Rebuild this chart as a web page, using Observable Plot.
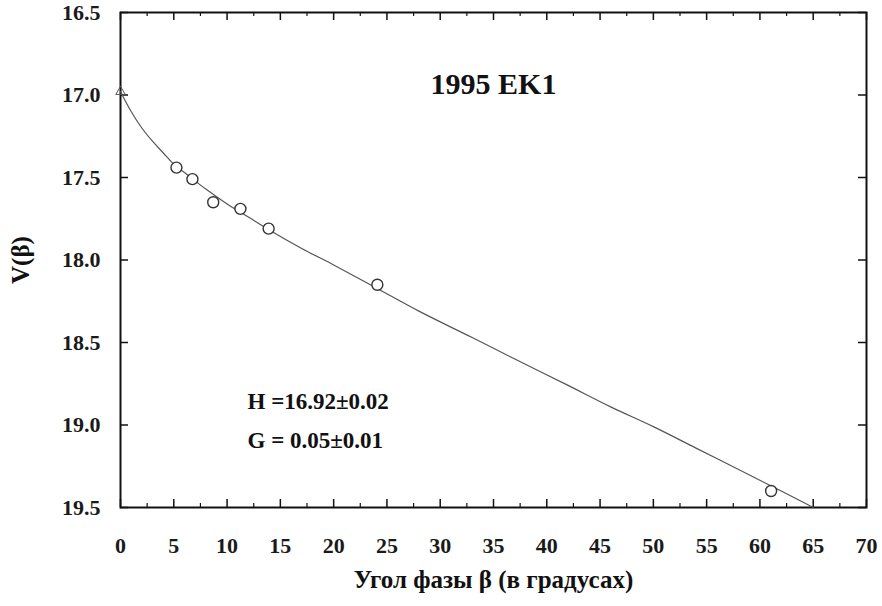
<!DOCTYPE html>
<html>
<head>
<meta charset="utf-8">
<script src="https://cdn.jsdelivr.net/npm/d3@7"></script>
<script src="https://cdn.jsdelivr.net/npm/@observablehq/plot@0.6"></script>
<style>
  body { margin: 0; background: #fff; }
</style>
</head>
<body>
<div id="chart"></div>
<script>
// Observed points (phase angle in degrees, V magnitude)
const obsBeta = [5.25, 6.75, 8.7, 11.25, 13.9, 24.1, 61.05];
const obsV    = [17.44, 17.51, 17.65, 17.69, 17.81, 18.15, 19.40];

// Fitted H-G curve
const fitBeta = [0, 1, 2, 3, 4, 5, 6, 8, 10, 12, 14, 17, 20, 24, 28, 33, 37, 42, 46, 50, 54, 58, 62, 65];
const fitV    = [16.98, 17.10, 17.20, 17.28, 17.35, 17.42, 17.47, 17.57, 17.66, 17.74, 17.82, 17.93, 18.03, 18.17, 18.31, 18.47, 18.60, 18.76, 18.89, 19.01, 19.14, 19.27, 19.40, 19.50];

// Zero-phase marker
const zeroBeta = [0];
const zeroV = [16.98];

// Axis ticks
const xMajor = [0, 5, 10, 15, 20, 25, 30, 35, 40, 45, 50, 55, 60, 65, 70];
const xMinor = [2.5, 7.5, 12.5, 17.5, 22.5, 27.5, 32.5, 37.5, 42.5, 47.5, 52.5, 57.5, 62.5, 67.5];
const yMajor = [16.5, 17.0, 17.5, 18.0, 18.5, 19.0, 19.5];

// Texts
const titleText = "1995 EK1";
const hText = "H =16.92\u00B10.02";
const gText = "G = 0.05\u00B10.01";
const xLabel = "Угол фазы β (в градусах)";
const yLabel = "V(β)";

const points = obsBeta.map((b, i) => ({beta: b, v: obsV[i]}));
const fit = fitBeta.map((b, i) => ({beta: b, v: fitV[i]}));
const zero = zeroBeta.map((b, i) => ({beta: b, v: zeroV[i]}));

const W = 882, H = 606;
const mL = 120, mR = 16, mT = 12, mB = 99;
const fw = W - mL - mR, fh = H - mT - mB;
const major = 8, minor = 4;
const tickColor = "#111";
const serif = "'Liberation Serif', serif";

const chart = Plot.plot({
  width: W,
  height: H,
  marginLeft: mL,
  marginRight: mR,
  marginTop: mT,
  marginBottom: mB,
  style: `font-family: ${serif}; font-weight: bold; font-size: 21px; color: #1a1a1a; background: #fff;`,
  x: {domain: [0, 70]},
  y: {domain: [16.5, 19.5], reverse: true},
  marks: [
    // inward ticks
    Plot.ruleX(xMajor, {x: d => d, insetTop: fh - major, stroke: tickColor, strokeWidth: 1.5}),
    Plot.ruleX(xMajor, {x: d => d, insetBottom: fh - major, stroke: tickColor, strokeWidth: 1.5}),
    Plot.ruleX(xMinor, {x: d => d, insetTop: fh - minor, stroke: tickColor, strokeWidth: 1.2}),
    Plot.ruleX(xMinor, {x: d => d, insetBottom: fh - minor, stroke: tickColor, strokeWidth: 1.2}),
    Plot.ruleY(yMajor, {y: d => d, insetRight: fw - major, stroke: tickColor, strokeWidth: 1.5}),
    Plot.ruleY(yMajor, {y: d => d, insetLeft: fw - major, stroke: tickColor, strokeWidth: 1.5}),
    Plot.axisX({ticks: xMajor, tickSize: 0, tickPadding: 30, label: null, tickFormat: d3.format("d"), fontSize: 22, fontWeight: "bold"}),
    Plot.axisY({ticks: yMajor, tickSize: 0, tickPadding: 20, label: null, tickFormat: d3.format(".1f"), fontSize: 22, fontWeight: "bold"}),
    Plot.frame({stroke: "#111", strokeWidth: 2}),
    Plot.line(fit, {x: "beta", y: "v", stroke: "#555", strokeWidth: 1.2, curve: "monotone-x"}),
    Plot.dot(zero, {x: "beta", y: "v", symbol: "triangle", r: 3.5, stroke: "#555", strokeWidth: 1, fill: "none"}),
    Plot.dot(points, {x: "beta", y: "v", r: 5.5, stroke: "#333", strokeWidth: 1.4, fill: "white"}),
    Plot.text([titleText], {frameAnchor: "top", lineAnchor: "middle", dy: 72, fontSize: 30, fontWeight: "bold", fill: "#111"}),
    Plot.text([hText], {frameAnchor: "top-left", lineAnchor: "middle", textAnchor: "start", dx: 127, dy: 389, fontSize: 23, fontWeight: "bold", fill: "#111"}),
    Plot.text([gText], {frameAnchor: "top-left", lineAnchor: "middle", textAnchor: "start", dx: 127, dy: 428, fontSize: 23, fontWeight: "bold", fill: "#111"}),
    Plot.text([xLabel], {frameAnchor: "bottom", lineAnchor: "middle", dy: 72, fontSize: 25, fontWeight: "bold", fill: "#111"}),
    Plot.text([yLabel], {frameAnchor: "left", lineAnchor: "middle", textAnchor: "middle", dx: -100, dy: 0, rotate: -90, fontSize: 25, fontWeight: "bold", fill: "#111"})
  ]
});
// force serif font on every text element
chart.setAttribute("font-family", "Liberation Serif");
chart.querySelectorAll("g, text").forEach(el => {
  if (el.hasAttribute("font-family")) el.setAttribute("font-family", "Liberation Serif");
});
chart.querySelectorAll("text").forEach(el => { el.style.fontFamily = serif; });
document.getElementById("chart").appendChild(chart);
</script>
</body>
</html>
